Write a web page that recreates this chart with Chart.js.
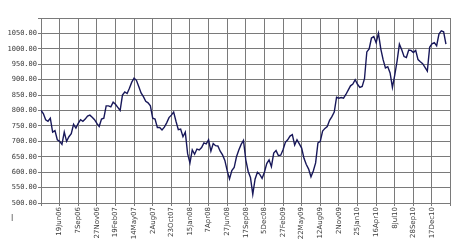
<!DOCTYPE html>
<html>
<head>
<meta charset="utf-8">
<script src="https://cdn.jsdelivr.net/npm/chart.js@4/dist/chart.umd.min.js"></script>
<style>
html,body{margin:0;padding:0;background:#fff;}
#wrap{width:460px;height:247px;position:relative;}
</style>
</head>
<body>
<div id="wrap"><canvas id="c" width="460" height="247"></canvas></div>
<script>
// Tick labels (one per vertical grid line, grid lines 1..21)
const dateLabels = ["19Jun06","7Sep06","27Nov06","19Feb07","14May07","2Aug07","23Oct07","15Jan08","7Apr08","27Jun08","17Sep08","5Dec08","27Feb09","22May09","12Aug09","2Nov09","25Jan10","16Apr10","8Jul10","28Sep10","17Dec10"];
// Y tick range
const yTicks = [500,550,600,650,700,750,800,850,900,950,1000,1050,1100];
// Series: one value every 1/8 of a label interval
const values = [
800,790,770,765,775,730,735,705,700,690,
730,700,715,725,755,743,758,770,765,772,
782,785,778,770,758,748,772,775,815,815,
812,827,820,810,800,850,860,855,872,892,
905,898,878,857,845,830,825,815,775,772,
745,745,737,746,760,777,785,795,765,738,
740,715,730,660,630,672,658,675,672,680,
695,692,705,668,693,686,685,668,656,638,
605,578,605,615,650,672,690,703,640,603,
583,528,578,600,593,580,600,628,640,618,
662,670,654,655,673,697,705,717,722,688,
705,692,678,645,625,610,585,604,630,695,
700,733,742,748,768,780,795,843,840,842,
840,852,866,880,886,900,885,875,878,903,
990,1000,1035,1040,1020,1050,1000,965,938,942,
922,875,915,960,1015,997,975,972,996,995,
988,995,965,958,952,940,928,1005,1016,1020,
1010,1048,1058,1055,1015
];
const stepsPerInterval = 8;

const extras = {
  id: 'extras',
  afterDraw(chart) {
    const ctx = chart.ctx;
    ctx.save();
    ctx.fillStyle = '#555';
    ctx.font = '8px "DejaVu Sans"';
    ctx.textBaseline = 'alphabetic';
    ctx.fillText('I', 11, 221);
    ctx.restore();
  }
};

new Chart(document.getElementById('c'), {
  type: 'line',
  data: {
    datasets: [{
      data: values.map((v, i) => ({ x: i / stepsPerInterval, y: v })),
      borderColor: '#18185a',
      borderWidth: 1.4,
      pointRadius: 0,
      tension: 0,
      fill: false
    }]
  },
  options: {
    responsive: false,
    animation: false,
    events: [],
    layout: { padding: { top: 18, right: 4, left: 0, bottom: 0 } },
    plugins: { legend: { display: false }, tooltip: { enabled: false } },
    scales: {
      x: {
        type: 'linear',
        min: 0,
        max: dateLabels.length + 1,
        afterFit: s => { s.height = 44; },
        afterBuildTicks: s => {
          const t = [];
          for (let k = 0; k <= dateLabels.length + 1; k++) t.push({ value: k });
          s.ticks = t;
        },
        ticks: {
          autoSkip: false,
          maxRotation: 90,
          minRotation: 90,
          padding: 1,
          color: '#3a3a3a',
          font: { family: '"DejaVu Sans"', size: 7 },
          callback: v => dateLabels[v - 1] || ''
        },
        grid: { color: '#7a7a7a', lineWidth: 1, tickLength: 3 },
        border: { display: true, color: '#7a7a7a' }
      },
      y: {
        min: yTicks[0],
        max: yTicks[yTicks.length - 1],
        afterFit: s => { s.width = 41; },
        afterBuildTicks: s => { s.ticks = yTicks.map(v => ({ value: v })); },
        ticks: {
          padding: 1,
          color: '#3a3a3a',
          font: { family: '"DejaVu Sans Mono"', size: 7 },
          callback: v => v === yTicks[yTicks.length - 1] ? '' : Number(v).toFixed(2)
        },
        grid: { color: '#7a7a7a', lineWidth: 1, tickLength: 3 },
        border: { display: true, color: '#7a7a7a' }
      }
    }
  },
  plugins: [extras]
});
</script>
</body>
</html>
